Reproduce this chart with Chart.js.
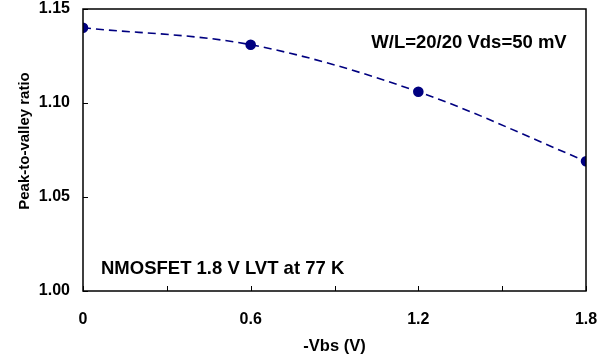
<!DOCTYPE html>
<html>
<head>
<meta charset="utf-8">
<script src="https://cdn.jsdelivr.net/npm/chart.js@4/dist/chart.umd.min.js"></script>
<style>
  html, body { margin: 0; padding: 0; background: #fff; }
  #wrap { width: 610px; height: 360px; }
</style>
</head>
<body>
<div id="wrap"><canvas id="pvChart"></canvas></div>
<script>
// data
const vbs = [0, 0.6, 1.2, 1.8];
const ratio = [1.140, 1.131, 1.106, 1.069];
const xTickStep = 0.3;
const yTicks = [1.00, 1.05, 1.10, 1.15];
const xTitle = '-Vbs (V)';
const yTitle = 'Peak-to-valley ratio';
const noteTop = 'W/L=20/20 Vds=50 mV';
const noteBottom = 'NMOSFET 1.8 V LVT at 77 K';

const fontFam = '"Liberation Sans", Arial, sans-serif';
const navy = '#000080';

// inward ticks, frame, y title and the two text notes
const extras = {
    id: 'extras',
    afterDraw(chart) {
        const ctx = chart.ctx;
        const { left, right, top, bottom } = chart.chartArea;
        const xs = chart.scales.x, ys = chart.scales.y;
        ctx.save();
        ctx.strokeStyle = '#000';
        ctx.lineWidth = 1;
        ctx.beginPath();
        for (let v = 0; v <= 1.8 + 1e-9; v += xTickStep) {
            const px = Math.round(xs.getPixelForValue(v)) + 0.5;
            ctx.moveTo(px, bottom);
            ctx.lineTo(px, bottom - 5);
        }
        yTicks.forEach(v => {
            const py = Math.round(ys.getPixelForValue(v)) + 0.5;
            ctx.moveTo(left, py);
            ctx.lineTo(left + 5, py);
        });
        ctx.stroke();
        ctx.lineWidth = 1.5;
        ctx.strokeRect(left, top, right - left, bottom - top);

        ctx.fillStyle = '#000';
        ctx.textBaseline = 'middle';

        // y axis title
        ctx.save();
        ctx.font = 'bold 15px ' + fontFam;
        ctx.translate(25, 141);
        ctx.rotate(-Math.PI / 2);
        ctx.textAlign = 'center';
        ctx.fillText(yTitle, 0, 0);
        ctx.restore();

        ctx.font = 'bold 18.5px ' + fontFam;
        ctx.textAlign = 'center';
        ctx.fillText(noteTop, 469, 43);
        ctx.textAlign = 'left';
        ctx.fillText(noteBottom, 101, 269);
        ctx.restore();
    }
};

new Chart(document.getElementById('pvChart'), {
    type: 'line',
    data: {
        datasets: [{
            data: vbs.map((x, i) => ({ x: x, y: ratio[i] })),
            borderColor: navy,
            backgroundColor: navy,
            borderWidth: 1.6,
            borderDash: [8, 5],
            cubicInterpolationMode: 'monotone',
            pointRadius: 4.5,
            pointBackgroundColor: navy,
            pointBorderColor: navy,
            fill: false
        }]
    },
    options: {
        responsive: true,
        maintainAspectRatio: false,
        animation: false,
        layout: { padding: { top: 9, right: 24, left: 0, bottom: 0 } },
        plugins: {
            legend: { display: false },
            tooltip: { enabled: false }
        },
        scales: {
            x: {
                type: 'linear',
                min: 0,
                max: 1.8,
                grid: { display: false, drawTicks: false },
                border: { display: false },
                ticks: {
                    stepSize: xTickStep,
                    color: '#000',
                    padding: 19,
                    maxRotation: 0,
                    font: { family: fontFam, size: 16, weight: 'bold' },
                    callback: v => {
                        const k = Math.round(v / 0.3);
                        if (k % 2 !== 0) return '';
                        return v === 0 ? '0' : (Math.round(v * 10) / 10).toFixed(1);
                    }
                },
                title: {
                    display: true,
                    text: xTitle,
                    color: '#000',
                    padding: { top: 4, bottom: 4 },
                    font: { family: fontFam, size: 16.5, weight: 'bold' }
                },
                afterFit: s => { s.height = 69; s.paddingLeft = 0; s.paddingRight = 0; }
            },
            y: {
                min: 1.0,
                max: 1.15,
                grid: { display: false, drawTicks: false },
                border: { display: false },
                ticks: {
                    stepSize: 0.05,
                    color: '#000',
                    padding: 13,
                    font: { family: fontFam, size: 16, weight: 'bold' },
                    callback: v => v.toFixed(2)
                },
                title: { display: false },
                afterFit: s => { s.width = 83; s.paddingTop = 0; s.paddingBottom = 0; }
            }
        }
    },
    plugins: [extras]
});
</script>
</body>
</html>
